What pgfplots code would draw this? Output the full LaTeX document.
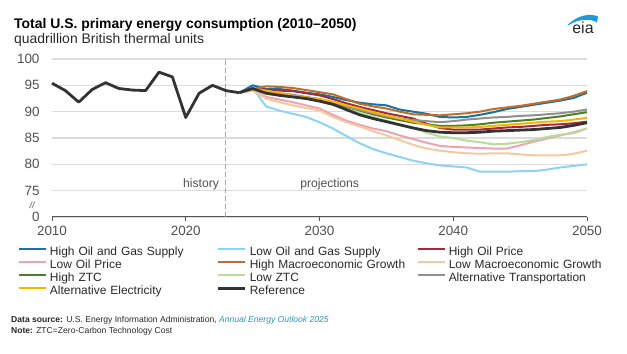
\documentclass[border=0pt]{standalone}
\usepackage{fontspec}
\setmainfont{Liberation Sans}
\usepackage{pgfplots}
\usepackage{pgfplotstable}
\pgfplotsset{compat=1.18}

\definecolor{cHOG}{RGB}{28,112,162}
\definecolor{cLOG}{RGB}{141,211,244}
\definecolor{cHOP}{RGB}{165,42,58}
\definecolor{cLOP}{RGB}{239,163,176}
\definecolor{cHMG}{RGB}{190,110,40}
\definecolor{cLMG}{RGB}{243,201,160}
\definecolor{cHZ}{RGB}{75,127,40}
\definecolor{cLZ}{RGB}{184,221,155}
\definecolor{cAT}{RGB}{143,143,143}
\definecolor{cAE}{RGB}{244,180,0}
\definecolor{cREF}{RGB}{51,51,51}
\definecolor{gridc}{RGB}{220,220,220}
\definecolor{axisc}{RGB}{85,85,85}
\definecolor{tickc}{RGB}{80,80,80}
\definecolor{txtc}{RGB}{40,40,40}
\definecolor{eiablue}{RGB}{30,155,215}
\definecolor{linkc}{RGB}{40,150,195}

\pgfplotstableread{
year val
2010 95.4
2011 94.0
2012 91.8
2013 94.2
2014 95.5
2015 94.4
2016 94.1
2017 94.0
2018 97.5
2019 96.6
2020 88.9
2021 93.5
2022 95.0
2023 94.0
2024 93.6
}\hist

\pgfplotstableread{
year ref hog log hop lop hmg lmg hztc lztc atr ael
2024 93.6 93.6 93.6 93.6 93.6 93.6 93.6 93.6 93.6 93.6 93.6
2025 94.4 95.0 94.5 94.3 94.0 94.3 94.0 94.3 94.3 94.3 94.3
2026 93.5 94.3 91.0 94.2 92.8 94.8 92.5 93.8 93.6 93.9 94.0
2027 93.1 94.3 90.2 94.0 92.3 94.7 91.8 93.4 93.2 93.5 93.6
2028 92.8 94.0 89.6 93.9 91.8 94.5 91.2 93.0 92.8 93.2 93.0
2029 92.5 93.6 89.0 93.5 91.2 94.1 90.7 92.6 92.4 92.8 92.7
2030 92.0 93.3 88.0 93.1 90.6 93.7 90.2 92.2 92.0 92.4 92.4
2031 91.4 92.8 86.8 92.4 89.4 93.3 89.0 91.6 91.3 91.7 91.9
2032 90.4 92.2 85.4 91.6 88.3 92.4 88.0 90.9 90.5 91.0 91.2
2033 89.4 91.7 84.0 90.9 87.5 91.5 87.2 90.2 89.8 90.3 90.6
2034 88.7 91.4 82.9 90.3 86.8 91.0 86.3 89.5 89.0 89.7 89.9
2035 88.1 91.2 82.1 89.7 86.3 90.6 85.5 88.9 88.3 89.1 89.3
2036 87.5 90.4 81.4 89.2 85.5 90.0 84.6 88.4 87.6 88.7 88.7
2037 86.9 90.0 80.7 88.7 84.8 89.5 83.7 87.9 86.9 88.4 88.1
2038 86.4 89.6 80.2 87.7 84.1 89.4 83.0 87.6 86.0 88.2 87.5
2039 86.1 89.0 79.8 86.9 83.5 89.3 82.6 87.3 85.3 88.0 87.0
2040 86.0 88.9 79.6 86.6 83.3 89.5 82.3 87.3 85.0 88.2 87.0
2041 86.0 89.0 79.4 86.6 83.2 89.7 82.1 87.4 84.5 88.5 87.0
2042 86.1 89.4 78.6 86.6 83.1 90.0 82.0 87.6 84.2 88.7 87.1
2043 86.3 89.9 78.6 86.8 83.0 90.5 82.1 87.9 83.8 88.9 87.3
2044 86.4 90.5 78.6 87.0 83.0 90.8 82.1 88.1 83.9 89.0 87.5
2045 86.5 90.9 78.7 87.1 83.6 91.1 81.9 88.3 84.2 89.2 87.7
2046 86.6 91.3 78.7 87.3 84.3 91.5 81.7 88.5 84.6 89.3 87.9
2047 86.8 91.7 79.0 87.5 84.9 91.9 81.7 88.8 85.2 89.5 88.1
2048 87.0 92.1 79.4 87.6 85.5 92.3 81.7 89.1 85.6 89.7 88.2
2049 87.4 92.6 79.7 87.8 86.1 93.0 82.0 89.5 85.9 90.0 88.5
2050 87.9 93.6 80.0 88.1 86.8 93.9 82.6 89.9 86.8 90.4 88.8
}\proj

\begin{document}
\begin{tikzpicture}
\useasboundingbox (0bp,0bp) rectangle (627bp,354bp);
% title
\node[anchor=base west, inner sep=0pt, font=\fontsize{14}{16}\selectfont\bfseries, text=black] at (14bp,325.5bp) {Total U.S. primary energy consumption (2010–2050)};
\node[anchor=base west, inner sep=0pt, font=\fontsize{14}{16}\selectfont, text=txtc] at (14bp,310bp) {quadrillion British thermal units};
% eia logo
\fill[eiablue] (568bp,329.5bp) .. controls (578bp,339bp) and (590bp,341bp) .. (598bp,337.5bp) -- (597bp,331.5bp) .. controls (590bp,336bp) and (578bp,335bp) .. (568bp,328.5bp) -- cycle;
\node[anchor=base, inner sep=0pt, font=\fontsize{16}{18}\selectfont, text=txtc] at (583bp,320.5bp) {eia};
% footnotes
\node[anchor=base west, inner sep=0pt, font=\fontsize{8.6}{9}\selectfont, text=txtc] at (11bp,31.5bp) {\textbf{Data source:} U.S. Energy Information Administration, \textcolor{linkc}{\textit{Annual Energy Outlook 2025}}};
\node[anchor=base west, inner sep=0pt, font=\fontsize{8.6}{9}\selectfont, text=txtc] at (11bp,20.5bp) {\textbf{Note:} ZTC=Zero-Carbon Technology Cost};

\begin{axis}[
  at={(52bp,137bp)}, anchor=south west,
  scale only axis, width=535bp, height=158bp,
  xmin=2010, xmax=2050, ymin=70, ymax=100,
  clip=false,
  axis x line*=bottom, axis y line*=left,
  y axis line style={draw=none},
  x axis line style={draw=axisc, line width=1bp, -},
  xtick={2010,2020,...,2050},
  ytick={70,75,...,100},
  yticklabels={0,75,80,85,90,95,100},
  /pgf/number format/assume math mode=true,
  /pgf/number format/1000 sep={},
  tick align=outside, major tick length=4bp,
  ytick style={draw=none},
  xtick style={draw=axisc, line width=0.8bp},
  xticklabel style={font=\fontsize{13.5}{15}\selectfont, text=tickc, yshift=-2bp},
  yticklabel style={font=\fontsize{13.5}{15}\selectfont, text=tickc, xshift=-5bp},
  ymajorgrids, grid style={gridc, line width=1.2bp},
  legend columns=3,
  legend cell align=left,
  legend style={draw=none, fill=none, inner sep=0pt, outer sep=0pt,
    at={(axis description cs:-0.0636,-0.1804)}, anchor=north west,
    font=\fontsize{12}{14}\selectfont,
    nodes={inner xsep=3bp, inner ysep=0pt, text width=164bp, align=left, text height=9.5bp, text depth=3.7bp, text=txtc},
    column sep=0pt, row sep=0pt},
  legend image code/.code={\draw[#1, line cap=butt] (0bp,3.5bp) -- (27bp,3.5bp);},
  every axis plot/.append style={line join=round, mark=none},
]
\draw[dashed, color=gray!70, line width=0.9bp, dash pattern=on 5bp off 3bp] (axis cs:2023,70) -- (axis cs:2023,100);
\node[anchor=base east, inner sep=0pt, font=\fontsize{12.2}{14}\selectfont, text=tickc] at (axis cs:2022.5,75.6) {history};
\node[anchor=base west, inner sep=0pt, font=\fontsize{12.2}{14}\selectfont, text=tickc] at (axis cs:2028.55,75.6) {projections};
\node[inner sep=0pt, xshift=-20bp, font=\fontsize{9}{10}\selectfont\itshape, text=tickc] at (axis cs:2010,72.2) {//};

\addplot[cREF, line width=2.8bp, forget plot] table[x=year, y=val]{\hist};
\addplot[cHOG, line width=2bp] table[x=year, y=hog]{\proj};
\addlegendentry{High Oil and Gas Supply}
\addplot[cLOG, line width=2bp] table[x=year, y=log]{\proj};
\addlegendentry{Low Oil and Gas Supply}
\addplot[cHOP, line width=2bp] table[x=year, y=hop]{\proj};
\addlegendentry{High Oil Price}
\addplot[cLOP, line width=2bp] table[x=year, y=lop]{\proj};
\addlegendentry{Low Oil Price}
\addplot[cHMG, line width=2bp] table[x=year, y=hmg]{\proj};
\addlegendentry{High Macroeconomic Growth}
\addplot[cLMG, line width=2bp] table[x=year, y=lmg]{\proj};
\addlegendentry{Low Macroeconomic Growth}
\addplot[cHZ, line width=2bp] table[x=year, y=hztc]{\proj};
\addlegendentry{High ZTC}
\addplot[cLZ, line width=2bp] table[x=year, y=lztc]{\proj};
\addlegendentry{Low ZTC}
\addplot[cAT, line width=2bp] table[x=year, y=atr]{\proj};
\addlegendentry{Alternative Transportation}
\addplot[cAE, line width=2bp] table[x=year, y=ael]{\proj};
\addlegendentry{Alternative Electricity}
\addplot[cREF, line width=2.8bp] table[x=year, y=ref]{\proj};
\addlegendentry{Reference}
\end{axis}
\end{tikzpicture}
\end{document}
